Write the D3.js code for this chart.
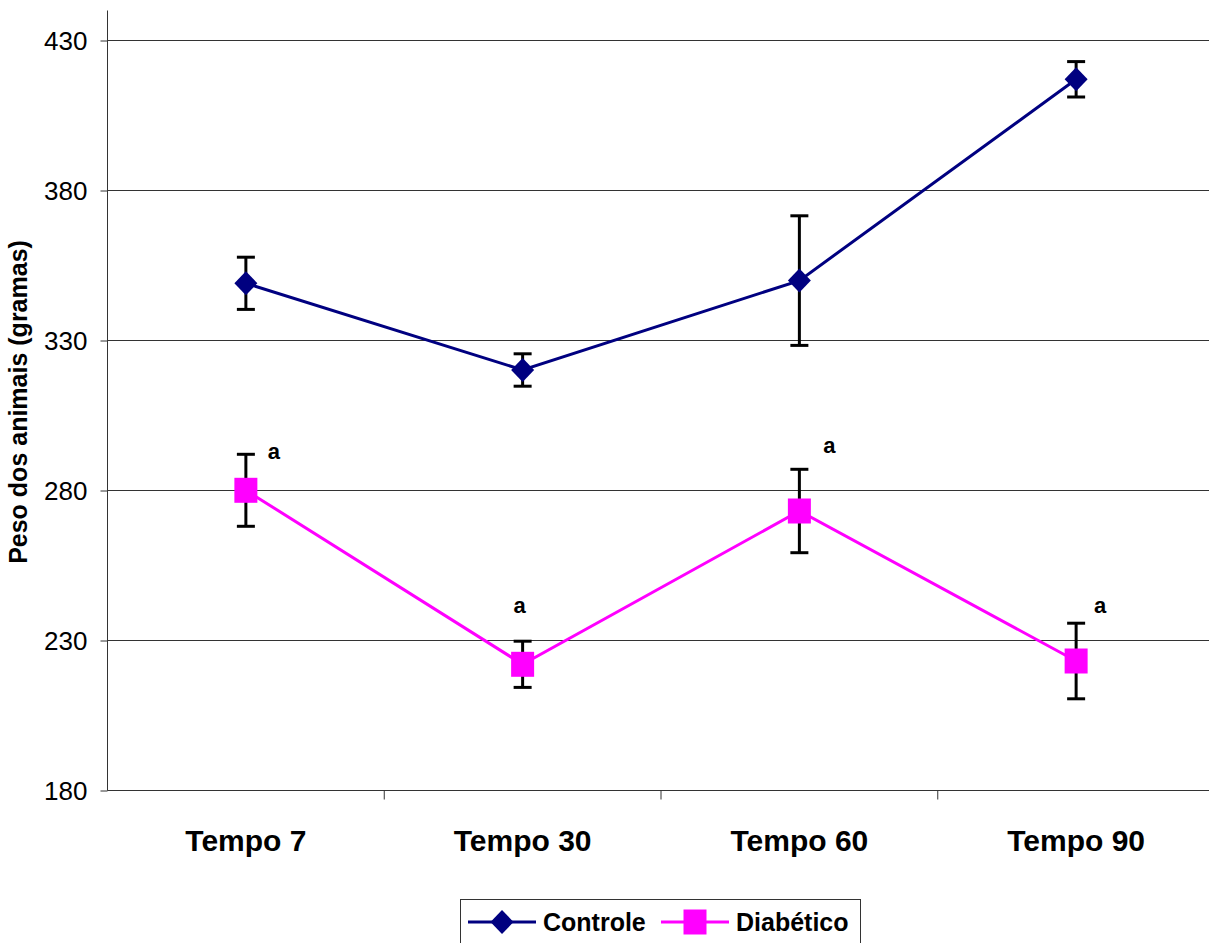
<!DOCTYPE html>
<html>
<head>
<meta charset="utf-8">
<script src="https://cdn.jsdelivr.net/npm/d3@7"></script>
<style>
  body { margin: 0; background: #fff; }
  svg { font-family: "Liberation Sans", Arial, sans-serif; }
</style>
</head>
<body>
<div id="chart"></div>
<script>
// dados
var categorias = ["Tempo 7", "Tempo 30", "Tempo 60", "Tempo 90"];
var controle = [348.9, 320.0, 349.8, 416.9];
var controleErro = [8.7, 5.4, 21.6, 5.9];
var diabetico = [279.9, 221.9, 273.0, 223.0];
var diabeticoErro = [12.0, 7.7, 13.9, 12.6];
var diabeticoSig = ["a", "a", "a", "a"];
var sigNivel = [290.5, 239, 292.5, 239];   // altura do rotulo, em gramas
var yTicks = [180, 230, 280, 330, 380, 430];

var sigDx = [28, -3, 30, 24];           // deslocamento horizontal do rotulo (px)

var W = 1209, H = 943;
var mLeft = 107.5, mRight = 1214.5, mTop = 40, mBottom = 790;

var svg = d3.select("#chart").append("svg")
    .attr("width", W)
    .attr("height", H);

var x = d3.scaleBand().domain(categorias).range([mLeft, mRight]);
var y = d3.scaleLinear().domain([180, 430]).range([mBottom, mTop]);
function cx(d) { return x(d) + x.bandwidth() / 2; }

// grade
svg.append("g").selectAll("line")
    .data(yTicks)
    .enter().append("line")
    .attr("x1", mLeft).attr("x2", W)
    .attr("y1", function(d) { return y(d) + 0.5; })
    .attr("y2", function(d) { return y(d) + 0.5; })
    .attr("stroke", "#333")
    .attr("stroke-width", 1);

// eixo y
var yAxis = svg.append("g")
    .attr("transform", "translate(" + mLeft + ",0.5)")
    .call(d3.axisLeft(y).tickValues(yTicks).tickSize(7).tickSizeOuter(0).tickPadding(13));
yAxis.select(".domain").remove();
yAxis.append("line")
    .attr("x1", 0).attr("x2", 0)
    .attr("y1", 10).attr("y2", mBottom)
    .attr("stroke", "#333");
yAxis.selectAll(".tick line").attr("stroke", "#333");
yAxis.selectAll(".tick text")
    .attr("font-size", 26)
    .attr("dy", "0.36em")
    .attr("fill", "#000")
    .style("font-family", "Liberation Sans, Arial, sans-serif");

// eixo x
var xAxis = svg.append("g")
    .attr("transform", "translate(0," + (mBottom + 0.5) + ")");
xAxis.append("line")
    .attr("x1", mLeft).attr("x2", W)
    .attr("y1", 0).attr("y2", 0)
    .attr("stroke", "#333");
xAxis.selectAll(".tk")
    .data(categorias.slice(1))
    .enter().append("line")
    .attr("class", "tk")
    .attr("x1", function(d) { return x(d); })
    .attr("x2", function(d) { return x(d); })
    .attr("y1", 0).attr("y2", 9)
    .attr("stroke", "#333");
xAxis.selectAll(".lbl")
    .data(categorias)
    .enter().append("text")
    .attr("class", "lbl")
    .attr("x", cx)
    .attr("y", 60)
    .attr("text-anchor", "middle")
    .attr("font-size", 30)
    .attr("font-weight", "bold")
    .text(function(d) { return d; });

// titulo do eixo y
svg.append("text")
    .attr("transform", "translate(27," + 402 + ") rotate(-90)")
    .attr("text-anchor", "middle")
    .attr("font-size", 25)
    .attr("font-weight", "bold")
    .text("Peso dos animais (gramas)");

var line = d3.line()
    .x(function(d, i) { return cx(categorias[i]); })
    .y(function(d) { return y(d); });

function serie(valores, erros, cor, forma) {
    var g = svg.append("g");
    g.append("path")
        .datum(valores)
        .attr("d", line)
        .attr("fill", "none")
        .attr("stroke", cor)
        .attr("stroke-width", 3);

    var eb = g.selectAll(".eb")
        .data(valores)
        .enter().append("g")
        .attr("class", "eb")
        .attr("stroke", "#000")
        .attr("stroke-width", 3);
    eb.append("line")
        .attr("x1", function(d, i) { return cx(categorias[i]); })
        .attr("x2", function(d, i) { return cx(categorias[i]); })
        .attr("y1", function(d, i) { return y(d + erros[i]); })
        .attr("y2", function(d, i) { return y(d - erros[i]); });
    [1, -1].forEach(function(s) {
        eb.append("line")
            .attr("x1", function(d, i) { return cx(categorias[i]) - 9; })
            .attr("x2", function(d, i) { return cx(categorias[i]) + 9; })
            .attr("y1", function(d, i) { return y(d + s * erros[i]); })
            .attr("y2", function(d, i) { return y(d + s * erros[i]); });
    });

    g.selectAll(".mk")
        .data(valores)
        .enter().append("path")
        .attr("class", "mk")
        .attr("transform", function(d, i) { return "translate(" + cx(categorias[i]) + "," + y(d) + ")"; })
        .attr("d", forma)
        .attr("fill", cor);
}

var diamante = "M0,-12L11.5,0L0,12L-11.5,0Z";
var quadrado = "M-11.5,-12.5H11.5V12.5H-11.5Z";

serie(controle, controleErro, "#000080", diamante);
serie(diabetico, diabeticoErro, "#FF00FF", quadrado);

// letras de significancia
svg.selectAll(".sig")
    .data(sigNivel)
    .enter().append("text")
    .attr("class", "sig")
    .attr("x", function(d, i) { return cx(categorias[i]) + sigDx[i]; })
    .attr("y", function(d) { return y(d); })
    .attr("text-anchor", "middle")
    .attr("font-size", 22)
    .attr("font-weight", "bold")
    .text(function(d, i) { return diabeticoSig[i]; });

// legenda
var leg = svg.append("g");
leg.append("rect")
    .attr("x", 460.5).attr("y", 899.5)
    .attr("width", 400).attr("height", 60)
    .attr("fill", "#fff")
    .attr("stroke", "#333")
    .attr("stroke-width", 1);
var itens = [
    {nome: "Controle", cor: "#000080", forma: diamante, x0: 468},
    {nome: "Diabético", cor: "#FF00FF", forma: quadrado, x0: 661}
];
itens.forEach(function(it) {
    leg.append("line")
        .attr("x1", it.x0).attr("x2", it.x0 + 68)
        .attr("y1", 922).attr("y2", 922)
        .attr("stroke", it.cor)
        .attr("stroke-width", 3);
    leg.append("path")
        .attr("transform", "translate(" + (it.x0 + 34) + ",922)")
        .attr("d", it.forma)
        .attr("fill", it.cor);
    leg.append("text")
        .attr("x", it.x0 + 75)
        .attr("y", 931)
        .attr("font-size", 25)
        .attr("font-weight", "bold")
        .text(it.nome);
});
</script>
</body>
</html>
